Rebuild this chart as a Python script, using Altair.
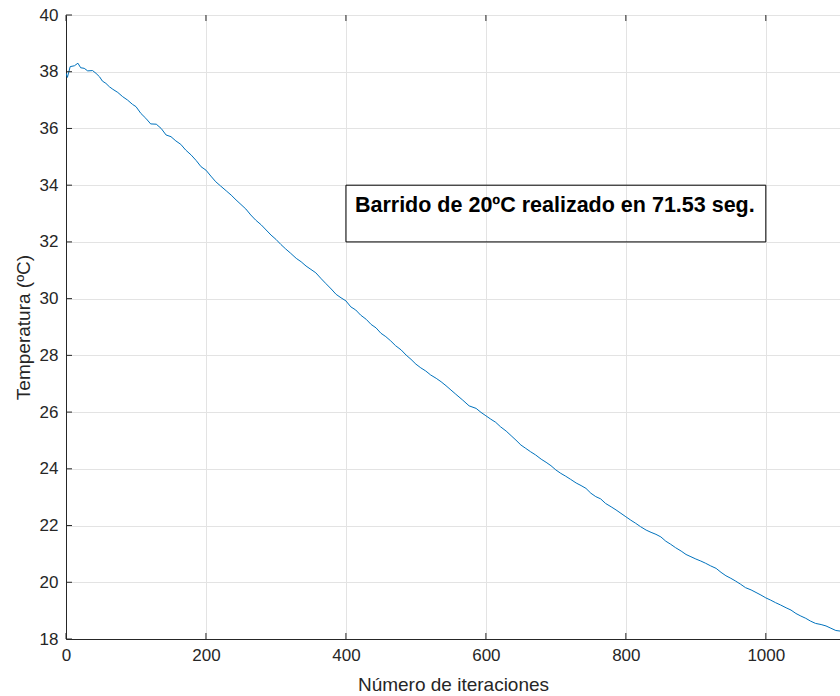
import altair as alt
import pandas as pd

# Iteration index and measured temperature (ºC) during the sweep
iteraciones = [
    0, 2, 6, 12, 17, 21, 26, 31, 38, 43, 48, 52, 57, 62, 67, 74, 81, 88, 95, 100,
    107, 114, 121, 129, 136, 143, 150, 157, 164, 171, 179, 186,
    193, 200, 207, 214, 221, 229, 236, 243, 250, 257, 264, 271, 279, 286, 293, 300,
    307, 314, 321, 329, 336, 343, 350, 357, 364,
    371, 379, 386, 393, 400, 407, 414, 421, 429, 436, 443, 450, 457, 464, 471, 479,
    486, 493, 500, 507, 514, 521, 529, 536, 543, 550,
    557, 567, 576, 586, 593, 600, 607, 614, 621, 629, 636, 643, 650, 657, 664, 671,
    679, 686, 693, 700, 707, 714, 721, 729, 736,
    743, 750, 757, 764, 771, 779, 786, 793, 800, 807, 814, 821, 829, 836, 843, 850,
    857, 864, 871, 879, 886, 893, 900, 907, 914, 921,
    929, 936, 943, 950, 957, 964, 971, 979, 986, 993, 1000, 1007, 1014, 1021, 1029,
    1036, 1043, 1050, 1057, 1064, 1071, 1079, 1086, 1093, 1100, 1106,
]
temperatura = [
    37.95, 37.80, 38.18, 38.21, 38.30, 38.14, 38.12, 38.03, 38.04, 37.94, 37.82, 37.67,
    37.59, 37.47, 37.38, 37.27, 37.12, 37.00, 36.85, 36.77, 36.53, 36.36, 36.16, 36.15,
    36.00, 35.77, 35.71, 35.56, 35.44, 35.24, 35.06, 34.87,
    34.65, 34.53, 34.32, 34.12, 33.97, 33.80, 33.65, 33.48, 33.32, 33.16, 32.95, 32.77,
    32.60, 32.42, 32.24, 32.09, 31.91, 31.75, 31.60, 31.42, 31.30, 31.15, 31.03, 30.91, 30.72,
    30.54, 30.34, 30.15, 30.03, 29.92, 29.71, 29.60, 29.42, 29.27, 29.09, 28.97, 28.78,
    28.66, 28.51, 28.34, 28.19, 28.01, 27.86, 27.69, 27.56, 27.45, 27.31, 27.19, 27.07,
    26.93, 26.78,
    26.63, 26.42, 26.22, 26.13, 25.99, 25.87, 25.75, 25.64, 25.48, 25.33, 25.17, 25.01,
    24.84, 24.72, 24.60, 24.49, 24.34, 24.23, 24.11, 23.96, 23.84, 23.74, 23.63, 23.50, 23.41,
    23.31, 23.14, 23.02, 22.94, 22.78, 22.66, 22.55, 22.43, 22.31, 22.19, 22.08, 21.96,
    21.84, 21.76, 21.69, 21.60, 21.45, 21.34, 21.22, 21.10, 20.98, 20.90, 20.82, 20.75,
    20.67, 20.58,
    20.49, 20.35, 20.23, 20.14, 20.04, 19.93, 19.81, 19.73, 19.64, 19.55, 19.45, 19.37,
    19.28, 19.20, 19.10, 19.02, 18.90, 18.81, 18.73, 18.63, 18.55, 18.51, 18.46, 18.38,
    18.30, 18.28,
]

x_ticks = [0, 200, 400, 600, 800, 1000]
y_ticks = [18, 20, 22, 24, 26, 28, 30, 32, 34, 36, 38, 40]

# Annotation box extent (data units) and its text
caja_x = [400, 1000]
caja_y = [32, 34]
texto = "Barrido de 20ºC realizado en 71.53 seg."

AX = "#262626"
W, H = 774, 624

df = pd.DataFrame({"iter": iteraciones, "temp": temperatura})
xscale = alt.Scale(domain=[0, 1106], nice=False, zero=False)
yscale = alt.Scale(domain=[18, 40], nice=False, zero=False)

# One shared axis definition per channel, reused by every layer
xaxis = alt.Axis(
    values=x_ticks,
    format="d",
    labelFlush=False,
    title="Número de iteraciones",
    titleX=W / 2,
    titleY=45,
    titleBaseline="middle",
    labelPadding=8,
)
yaxis = alt.Axis(
    values=y_ticks,
    format="d",
    labelFlush=False,
    title="Temperatura (ºC)",
    titleX=-43,
    titleY=H / 2,
    titleAngle=270,
    titleAlign="center",
    titleBaseline="middle",
    labelPadding=8,
)


def X(field):
    return alt.X(field, type="quantitative", scale=xscale, axis=xaxis)


def Y(field):
    return alt.Y(field, type="quantitative", scale=yscale, axis=yaxis)


line = alt.Chart(df).mark_line(color="#0072BD", strokeWidth=1, clip=True).encode(
    x=X("iter"), y=Y("temp")
)

# Inward tick marks (bottom, top and left edges)
xt_df = pd.DataFrame({"iter": x_ticks})
yt_df = pd.DataFrame({"temp": y_ticks})
ticks_bottom = alt.Chart(xt_df).mark_rule(color=AX, strokeWidth=1).encode(
    x=X("iter"), y=alt.value(H), y2=alt.value(H - 6)
)
ticks_top = alt.Chart(xt_df).mark_rule(color=AX, strokeWidth=1).encode(
    x=X("iter"), y=alt.value(0), y2=alt.value(6)
)
ticks_left = alt.Chart(yt_df).mark_rule(color=AX, strokeWidth=1).encode(
    y=Y("temp"), x=alt.value(0), x2=alt.value(6)
)

box_df = pd.DataFrame({
    "iter": [caja_x[0]], "iter2": [caja_x[1]],
    "temp": [caja_y[0]], "temp2": [caja_y[1]], "t": [texto],
})
box = alt.Chart(box_df).mark_rect(fillOpacity=0, stroke="#000000", strokeWidth=1).encode(
    x=X("iter"), x2="iter2:Q", y=Y("temp"), y2="temp2:Q"
)
label = alt.Chart(box_df).mark_text(
    align="left", baseline="alphabetic", dx=9, dy=27,
    fontSize=21.5, fontWeight="bold", color="#000000", font="Liberation Sans",
).encode(
    x=X("iter"), y=Y("temp2"), text="t:N"
)

chart = (
    alt.layer(line, ticks_bottom, ticks_top, ticks_left, box, label)
    .properties(
        width=W,
        height=H,
        autosize=alt.AutoSizeParams(type="none"),
        padding={"left": 66, "top": 15, "right": 0, "bottom": 57},
        background="white",
    )
    .configure_view(stroke=AX, strokeWidth=1)
    .configure_axis(
        domainColor=AX,
        domainWidth=1,
        ticks=False,
        labelColor=AX,
        labelFont="Liberation Sans",
        labelFontSize=17,
        titleFont="Liberation Sans",
        titleFontSize=19,
        titleFontWeight="normal",
        titleColor=AX,
        gridColor="#e3e3e3",
        gridWidth=1,
    )
)

chart.save("out.html", embed_options={"renderer": "svg", "actions": False})
